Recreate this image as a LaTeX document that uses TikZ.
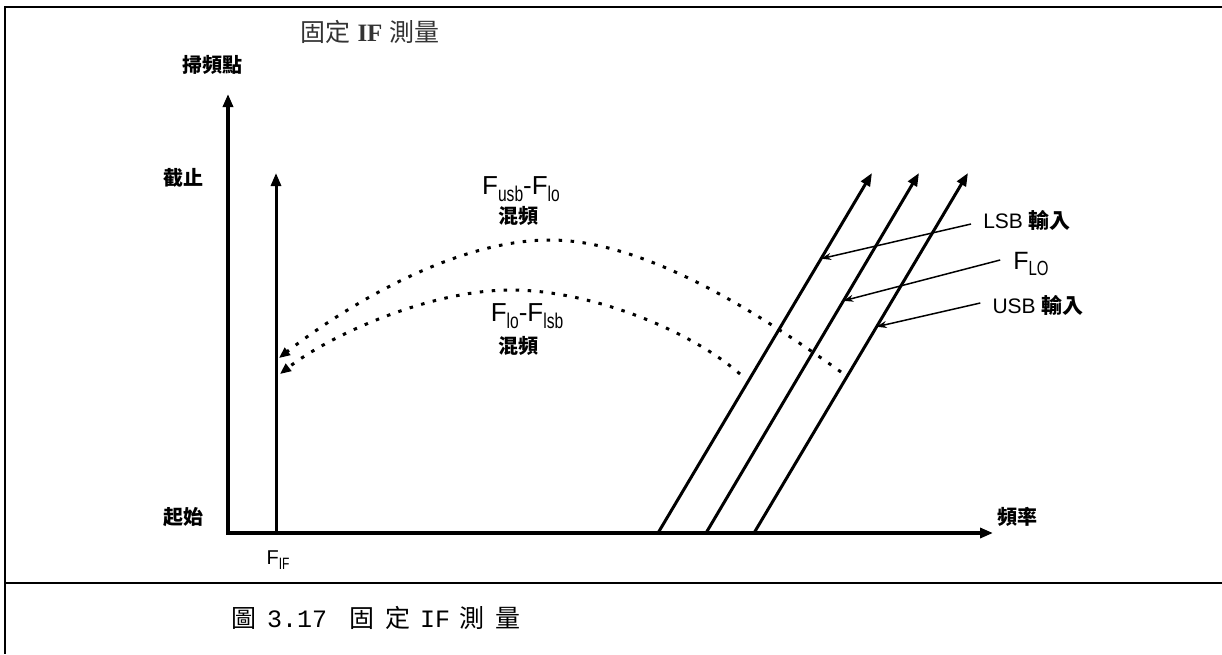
\documentclass[tikz,border=0pt]{standalone}
\usepackage{fontspec}
\usetikzlibrary{arrows.meta,calc}
\setmainfont{Liberation Sans}
\newfontfamily\cjk{Noto Sans CJK TC}
\newfontfamily\serfont{Liberation Serif}
\newfontfamily\monofont{Liberation Mono}
\newcommand\lsub[1]{\raisebox{-0.25em}{\scalebox{0.6}[0.82]{#1}}}
\newcommand\zh[1]{{\cjk\bfseries #1}}
\tikzset{
  frameline/.style={line width=2.8pt},
  axisline/.style={line width=3.4pt, line join=miter},
  sweepline/.style={line width=3pt, -{Triangle[length=13pt,width=10pt]}},
  mixcurve/.style={line width=3pt, dash pattern=on 3.5pt off 8.5pt, -{Triangle[length=11pt,width=9pt]}},
  leaderline/.style={line width=1.5pt, -{Stealth[length=10pt,width=7pt]}},
  zhlab/.style={inner sep=0pt, font=\cjk\bfseries\fontsize{20}{24}\selectfont},
  enlab/.style={inner sep=0pt, font=\fontsize{21}{25}\selectfont},
  mixlab/.style={inner sep=0pt, font=\fontsize{26}{30}\selectfont},
}
\begin{document}
\begin{tikzpicture}[x=1pt,y=-1pt]
\useasboundingbox (0,0) rectangle (1222,654);
% frame (table cell borders)
\draw[frameline] (5,7) -- (1222,7);
\draw[frameline] (5,6) -- (5,654);
\draw[frameline] (5,583) -- (1222,583);

% coordinates
\coordinate (O) at (228,533);
\coordinate (ytip) at (228,94);
\coordinate (xtip) at (993,533);
\coordinate (fifb) at (276,533);
\coordinate (fift) at (276,173);
\coordinate (b1) at (658,533);
\coordinate (t1) at (872,173);
\coordinate (b2) at (706,533);
\coordinate (t2) at (919,173);
\coordinate (b3) at (754,533);
\coordinate (t3) at (968,173);

% axes
\draw[axisline, {Triangle[length=13pt,width=10pt]}-{Triangle[length=13pt,width=10pt]}] (ytip) -- (O) -- (xtip);
% fixed IF line
\draw[sweepline] (fifb) -- (fift);
% sweeping lines
\draw[sweepline] (b1) -- (t1);
\draw[sweepline] (b2) -- (t2);
\draw[sweepline] (b3) -- (t3);

% labels
\node[inner sep=0pt, font=\fontsize{25}{30}\selectfont, text=black!80] (title) at (370,32)
  {{\cjk 固定} {\serfont\bfseries IF} {\cjk 測量}};
\node[zhlab] (ylab) at (212,65) {掃頻點};
\node[zhlab] (stop) at (183,178) {截止};
\node[zhlab] (start) at (183,517) {起始};
\node[zhlab] (freq) at (1017,517) {頻率};
\node[inner sep=0pt, font=\fontsize{20}{24}\selectfont] (fif) at (278,560) {F\lsub{IF}};

\node[mixlab] (usbmix) at (521,189) {F\lsub{usb}-F\lsub{lo}};
\node[zhlab] (usbmixzh) at (518,216) {混頻};
\node[mixlab] (lsbmix) at (527,316) {F\lsub{lo}-F\lsub{lsb}};
\node[zhlab] (lsbmixzh) at (518,346) {混頻};

\node[enlab] (lsb) at (1027,220) {LSB \zh{輸入}};
\node[inner sep=0pt, font=\fontsize{25}{30}\selectfont] (flo) at (1031,264) {F\lsub{LO}};
\node[enlab] (usb) at (1038,305) {USB \zh{輸入}};

% leaders
\draw[leaderline] ([shift={(-12,4)}]lsb.west) -- ($(b1)!0.762!(t1)$);
\draw[leaderline] ([shift={(-13,-4)}]flo.west) -- ($(b2)!0.645!(t2)$);
\draw[leaderline] ([shift={(-12,-2)}]usb.west) -- ($(b3)!0.573!(t3)$);

% mixing curves
\coordinate (u0) at (841,372);
\coordinate (upk) at (550,240);
\coordinate (uend) at (279,358);
\coordinate (l0) at (740,374);
\coordinate (lpk) at (511,290);
\coordinate (lend) at (280,374);
\draw[mixcurve] (u0) .. controls (771,322) and (650,240) .. (upk)
   .. controls (450,240) and (338,312) .. (uend);
\draw[mixcurve] (l0) .. controls (690,330) and (590,290) .. (lpk)
   .. controls (430,290) and (330,335) .. (lend);

% caption
\node[anchor=west, inner sep=0pt, font=\cjk\fontsize{25}{28}\selectfont] (cap) at (231,618)
  {圖\hspace{11pt}{\monofont 3.17}\hspace{22pt}固\hspace{11pt}定\hspace{10pt}{\monofont IF}\hspace{9pt}測\hspace{11pt}量};
\end{tikzpicture}
\end{document}
